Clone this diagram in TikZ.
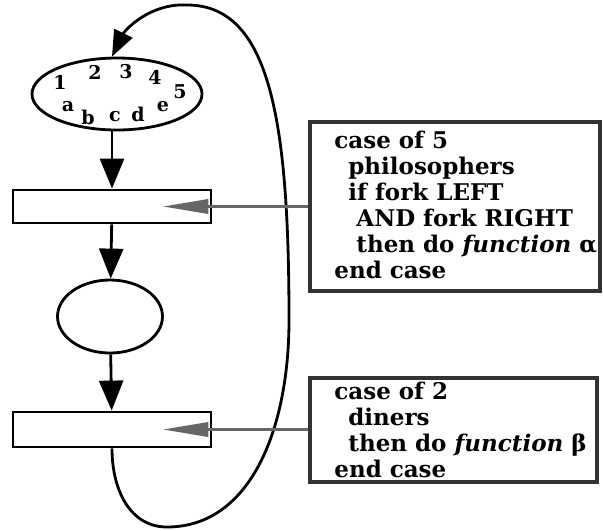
\documentclass[tikz,border=0pt]{standalone}
\usepackage{fontspec}
\setmainfont{DejaVu Serif}
\usetikzlibrary{arrows.meta,shapes.geometric}

\begin{document}
\begin{tikzpicture}[x=0.5pt,y=-0.5pt,
    place/.style={ellipse,draw,line width=1.4pt,inner sep=0pt},
    trans/.style={rectangle,draw,line width=1.4pt,minimum width=99pt,minimum height=16.5pt,inner sep=0pt},
    flow/.style={-{Triangle[length=15pt,width=12pt]},line width=1.4pt},
    casebox/.style={rectangle,draw=black!80,line width=2pt,inner sep=0pt},
    casetext/.style={anchor=west,inner sep=0pt,align=left,font=\fontsize{11.5}{13}\selectfont\bfseries},
    hint/.style={-{Triangle[length=23pt,width=7pt]},draw=black!60,line width=1.8pt,fill=black!60},
    tok/.style={inner sep=0pt,font=\fontsize{9.5}{9.5}\selectfont\bfseries}]
    \useasboundingbox (0,0) rectangle (603,530);
    \node[place,minimum width=85pt,minimum height=36pt] (p1) at (117,94) {};
    \foreach \lab/\px/\py in {1/60/82,2/95/72,3/126/72,4/155/77,5/180/92,a/68/107,b/88/117,c/115/117,d/138/114,e/163/107}
      \node[tok] (tok\lab) at (\px,\py) {\lab};
    \node[trans] (t1) at (112,206.5) {};
    \node[place,minimum width=52.5pt,minimum height=36.5pt] (p2) at (110,316.5) {};
    \node[trans,minimum height=17.5pt] (t2) at (112,429.5) {};
    \node[casebox,minimum width=145pt,minimum height=84.5pt] (c1) at (455,206.5) {};
    \node[casetext] (c1txt) at ([xshift=13pt,yshift=1pt]c1.west)
      {case of 5\\
       \hspace*{7pt}philosophers\\
       \hspace*{7pt}if fork LEFT\\
       \hspace*{11pt}AND fork RIGHT\\
       \hspace*{11pt}then do \textit{function} α\\
       end case};
    \node[casebox,minimum width=143.5pt,minimum height=52pt] (c2) at (453.5,429.5) {};
    \node[casetext] (c2txt) at ([xshift=13pt]c2.west)
      {case of 2\\
       \hspace*{7pt}diners\\
       \hspace*{7pt}then do \textit{function} β\\
       end case};
    \coordinate (loopbot) at (167,527);
    \coordinate (loopright) at (289,320);
    \coordinate (looptop) at (187,5);
    \draw[flow] (p1.south -| t1) -- (t1);
    \draw[flow] (t1) -- (p2);
    \draw[flow] (p2) -- (t2);
    \draw[-{Triangle[length=13pt,width=10pt]},line width=1.4pt] (t2.south)
      .. controls (112,490) and (130,527) .. (loopbot)
      .. controls (250,527) and (289,430) .. (loopright)
      .. controls (289,120) and (270,5) .. (looptop)
      .. controls (150,3) and (125,30) .. (p1.north -| t1);
    \draw[hint] (c1.west) -- ([xshift=-25pt]t1.east);
    \draw[hint] (c2.west) -- ([xshift=-25pt]t2.east);
\end{tikzpicture}
\end{document}
